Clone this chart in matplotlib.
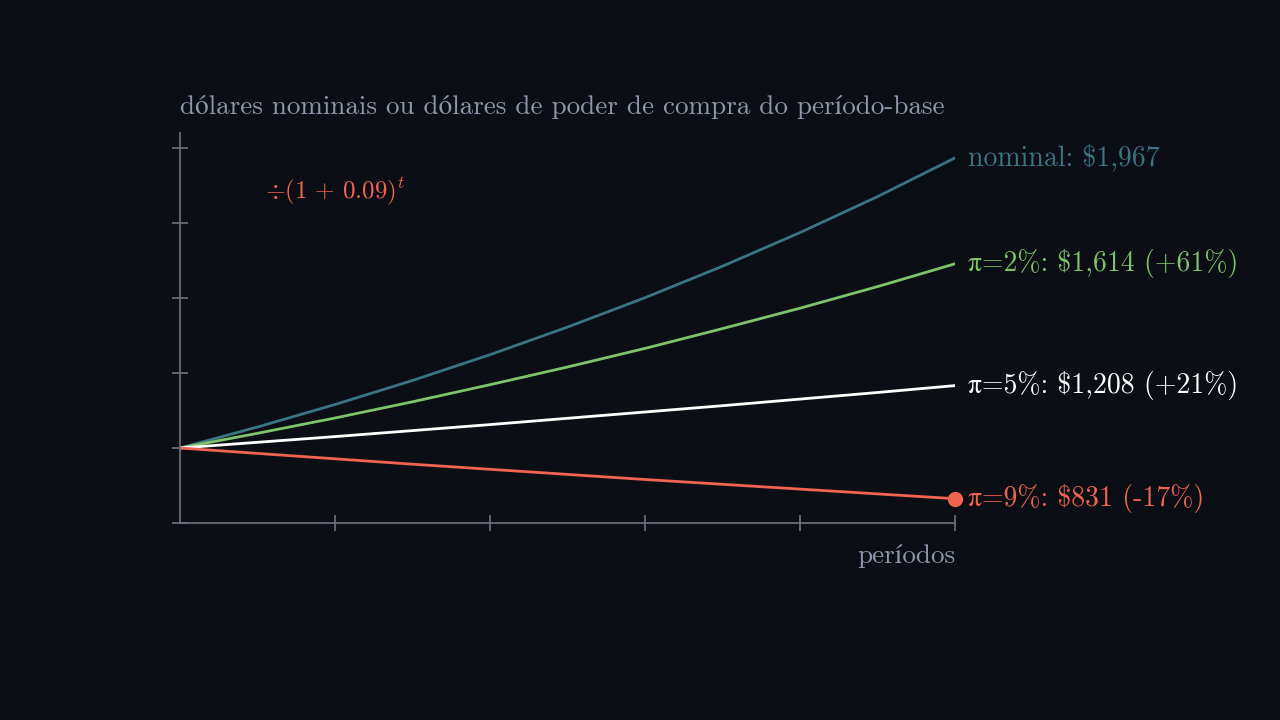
import matplotlib
matplotlib.use("Agg")
import matplotlib.pyplot as plt

# dados (valor de $1,000 ao longo de 10 períodos)
periodos = [0, 1, 2, 3, 4, 5, 6, 7, 8, 9, 10]
nominal = [1000, 1070, 1145, 1225, 1311, 1403, 1501, 1606, 1718, 1838, 1967]
real_2 = [1000, 1049, 1100, 1154, 1211, 1270, 1332, 1398, 1466, 1538, 1614]
real_5 = [1000, 1019, 1038, 1058, 1078, 1099, 1120, 1141, 1163, 1185, 1208]
real_9 = [1000, 982, 964, 946, 929, 912, 895, 879, 863, 847, 831]

rotulos = ["nominal: \\$1,967",
           "π=2%: \\$1,614 (+61%)",
           "π=5%: \\$1,208 (+21%)",
           "π=9%: \\$831 (-17%)"]
cores = ["#3a7583", "#7ec46c", "#ffffff", "#f26452"]

bg = "#0b0e14"
cinza = "#6f7480"
cinza_txt = "#8d97a8"

plt.rcParams["font.family"] = ["cmr10", "STIXGeneral", "DejaVu Serif"]
plt.rcParams["mathtext.fontset"] = "cm"
plt.rcParams["axes.formatter.use_mathtext"] = True

fig = plt.figure(figsize=(12.8, 7.2), dpi=100, facecolor=bg)
ax = fig.add_axes([180 / 1280, 197 / 720, 775 / 1280, 390 / 720])
ax.set_facecolor(bg)

series = [nominal, real_2, real_5, real_9]
for s, c in zip(series, cores):
    ax.plot(periodos, s, color=c, lw=2.0, solid_capstyle="round")
ax.plot(periodos[-1], real_9[-1], "o", color=cores[3], ms=10, clip_on=False, zorder=5)

for s, c, r in zip(series, cores, rotulos):
    ax.annotate(r, (periodos[-1], s[-1]), xytext=(9, 0), textcoords="offset points",
                color=c, fontsize=20, va="center", ha="left", annotation_clip=False)

ax.set_xlim(0, 10)
ax.set_ylim(750, 2050)
ax.set_xticks([2, 4, 6, 8, 10])
ax.set_yticks([750, 1000, 1250, 1500, 1750, 2000])
ax.set_xticklabels([])
ax.set_yticklabels([])
ax.tick_params(direction="inout", length=12, width=1.2, color=cinza)
ax.spines["top"].set_visible(False)
ax.spines["right"].set_visible(False)
ax.spines["left"].set_bounds(750, 2050)
ax.spines["bottom"].set_bounds(0, 10)
for lado in ["left", "bottom"]:
    ax.spines[lado].set_color(cinza)
    ax.spines[lado].set_linewidth(1.2)

fig.text(180 / 1280, 1 - 107 / 720,
         "dólares nominais ou dólares de poder de compra do período-base",
         color=cinza_txt, fontsize=19.5, ha="left", va="center")
fig.text(265 / 1280, 1 - 191 / 720, r"$\div(1\,+\,0.09)^t$",
         color=cores[3], fontsize=18, ha="left", va="center")
fig.text(955 / 1280, 1 - 556 / 720, "períodos",
         color=cinza_txt, fontsize=19.5, ha="right", va="center")

fig.savefig("out.png", dpi=100, facecolor=bg)
